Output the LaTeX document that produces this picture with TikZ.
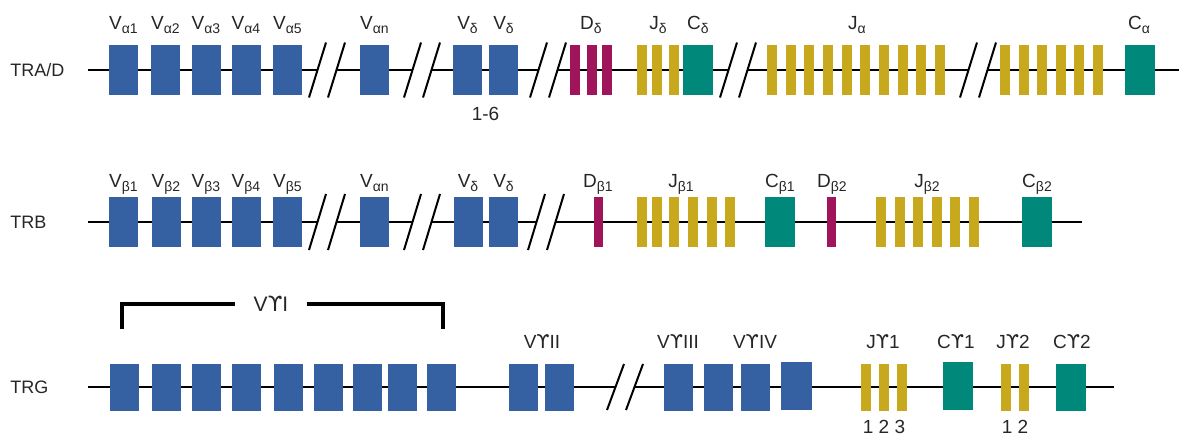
\documentclass[tikz,border=0pt]{standalone}
\usepackage{fontspec}
\setmainfont{Liberation Sans}
\newfontfamily\ypfont{DejaVu Sans}
\usetikzlibrary{positioning,calc}

\definecolor{vblue}{RGB}{53,96,162}
\definecolor{dred}{RGB}{160,20,92}
\definecolor{jgold}{RGB}{200,169,30}
\definecolor{cteal}{RGB}{0,137,122}

\newcommand{\yp}{{\ypfont ϒ}}
\newcommand{\gsub}[1]{\raisebox{-0.45ex}{\fontsize{7}{8}\selectfont #1}}

% chromosome break: name, x, y, half height
\newcommand{\chrbreak}[4]{%
  \coordinate (#1-l) at ({#2-9.5},#3);
  \coordinate (#1-r) at ({#2+9.5},#3);
  \draw[breakmark] ({#2-18},{#3+#4}) -- ({#2-1},{#3-#4});
  \draw[breakmark] ({#2+1},{#3+#4}) -- ({#2+18},{#3-#4});
}

\begin{document}
\begin{tikzpicture}[x=0.5pt,y=-0.5pt,
    backbone/.style={line width=1pt},
    breakmark/.style={line width=1pt},
    bracket/.style={line width=1.6pt},
    seg/.style={inner sep=0pt, draw=none, minimum height=25pt},
    vseg/.style={seg, fill=vblue, minimum width=14.5pt},
    dseg/.style={seg, fill=dred, minimum width=5pt},
    jseg/.style={seg, fill=jgold, minimum width=5pt},
    cseg/.style={seg, fill=cteal, minimum width=15pt},
    lbl/.style={anchor=base, inner sep=0pt, text=black!85, font=\fontsize{9.5}{11}\selectfont},
    rowname/.style={anchor=west, inner sep=0pt, text=black!85, font=\fontsize{9}{11}\selectfont}]
  \useasboundingbox (0,0) rectangle (1179,435);

  % TRA/D
  \node[rowname] (tra) at (10,70) {TRA/D};
  \chrbreak{ka1}{327}{70}{27.5}
  \chrbreak{ka2}{422}{70}{27.5}
  \chrbreak{ka3}{548}{70}{27.5}
  \chrbreak{ka4}{738}{70}{27.5}
  \chrbreak{ka5}{978}{70}{27.5}
  \coordinate (a-start) at (88,70);
  \coordinate (a-end) at (1179,70);
  \draw[backbone] (a-start) -- (ka1-l) (ka1-r) -- (ka2-l) (ka2-r) -- (ka3-l)
    (ka3-r) -- (ka4-l) (ka4-r) -- (ka5-l) (ka5-r) -- (a-end);
  \foreach \i/\x/\s in {1/123.5/α1, 2/165.5/α2, 3/206/α3, 4/246/α4, 5/287.5/α5,
      6/374.5/αn, 7/467.5/δ, 8/503.5/δ} {
    \node[vseg] (a-v\i) at (\x,70) {};
    \node[lbl] (a-lv\i) at (\x,29) {V\gsub{\s}};
  }
  \foreach \i/\x in {1/575, 2/592, 3/607}
    \node[dseg] (a-d\i) at (\x,70) {};
  \foreach \i/\x in {1/642, 2/657, 3/673.5}
    \node[jseg] (a-jd\i) at (\x,70) {};
  \node[cseg] (a-cd) at (698,70) {};
  \foreach \i in {0,...,9}
    \node[jseg] (a-ja\i) at ({772+18.67*\i},70) {};
  \foreach \i in {0,...,5}
    \node[jseg] (a-jb\i) at ({1005+18.6*\i},70) {};
  \node[cseg] (a-ca) at (1140,70) {};
  \node[lbl] (a-ld) at (591,29) {D\gsub{δ}};
  \node[lbl] (a-lj) at (658,29) {J\gsub{δ}};
  \node[lbl] (a-lc) at (698,29) {C\gsub{δ}};
  \node[lbl] (a-lja) at (857,29) {J\gsub{α}};
  \node[lbl] (a-lca) at (1139,29) {C\gsub{α}};
  \node[lbl] (a-num) at (485.5,120) {1-6};

  % TRB
  \node[rowname] (trb) at (10,222) {TRB};
  \chrbreak{kb1}{327}{222}{28}
  \chrbreak{kb2}{422}{222}{28}
  \chrbreak{kb3}{546}{222}{28}
  \coordinate (b-start) at (88,222);
  \coordinate (b-end) at (1082,222);
  \draw[backbone] (b-start) -- (kb1-l) (kb1-r) -- (kb2-l) (kb2-r) -- (kb3-l)
    (kb3-r) -- (b-end);
  \foreach \i/\x/\s in {1/123.5/β1, 2/166/β2, 3/206/β3, 4/246/β4, 5/287.5/β5,
      6/374.5/αn, 7/468/δ, 8/503.5/δ} {
    \node[vseg] (b-v\i) at (\x,222) {};
    \node[lbl] (b-lv\i) at (\x,187) {V\gsub{\s}};
  }
  \node[dseg, minimum width=4.5pt] (b-d1) at (598.5,222) {};
  \foreach \i/\x in {1/642, 2/657, 3/674, 4/693, 5/712, 6/730}
    \node[jseg] (b-ja\i) at (\x,222) {};
  \node[cseg] (b-c1) at (780,222) {};
  \node[dseg, minimum width=4.5pt] (b-d2) at (831.5,222) {};
  \foreach \i/\x in {1/881, 2/900, 3/918, 4/937, 5/955, 6/974}
    \node[jseg] (b-jb\i) at (\x,222) {};
  \node[cseg] (b-c2) at (1037,222) {};
  \node[lbl] (b-ld1) at (598,187) {D\gsub{β1}};
  \node[lbl] (b-lj1) at (681,187) {J\gsub{β1}};
  \node[lbl] (b-lc1) at (780,187) {C\gsub{β1}};
  \node[lbl] (b-ld2) at (832,187) {D\gsub{β2}};
  \node[lbl] (b-lj2) at (927,187) {J\gsub{β2}};
  \node[lbl] (b-lc2) at (1037,187) {C\gsub{β2}};

  % TRG
  \node[rowname] (trg) at (10,387) {TRG};
  \chrbreak{kg1}{625}{387}{23}
  \coordinate (g-start) at (88,387);
  \coordinate (g-end) at (1114,387);
  \draw[backbone] (g-start) -- (kg1-l) (kg1-r) -- (g-end);
  \foreach \i/\x in {1/124.5, 2/166, 3/206, 4/246.5, 5/288, 6/328, 7/367, 8/402.5,
      9/441.5, 10/523, 11/559.5, 12/678, 13/718.5, 14/755}
    \node[vseg, minimum height=23.5pt] (g-v\i) at (\x,387) {};
  \node[vseg, minimum height=24pt, minimum width=15.5pt] (g-v15) at (796.5,385.5) {};
  \foreach \i/\x in {1/865.5, 2/884, 3/902, 4/1006, 5/1024}
    \node[jseg, minimum height=23.5pt] (g-j\i) at (\x,387) {};
  \node[cseg, minimum height=24pt] (g-c1) at (957.5,385.5) {};
  \node[cseg, minimum height=23.5pt] (g-c2) at (1070.5,387) {};
  \coordinate (g-bl) at (122,329);
  \coordinate (g-br) at (443,329);
  \node[lbl, anchor=center, inner xsep=9pt, font=\fontsize{10.5}{12}\selectfont]
    (g-l1) at (271,304) {V\yp I};
  \draw[bracket] (g-bl) |- (g-l1.west);
  \draw[bracket] (g-l1.east) -| (g-br);
  \node[lbl] (g-l2) at (542,348) {V\yp II};
  \node[lbl] (g-l3) at (678,348) {V\yp III};
  \node[lbl] (g-l4) at (755,348) {V\yp IV};
  \node[lbl] (g-lj1) at (883,348) {J\yp 1};
  \node[lbl] (g-lc1) at (956,348) {C\yp 1};
  \node[lbl] (g-lj2) at (1013,348) {J\yp 2};
  \node[lbl] (g-lc2) at (1072,348) {C\yp 2};
  \node[lbl] (g-n1) at (884,433) {1 2 3};
  \node[lbl] (g-n2) at (1015,433) {1 2};
\end{tikzpicture}
\end{document}
